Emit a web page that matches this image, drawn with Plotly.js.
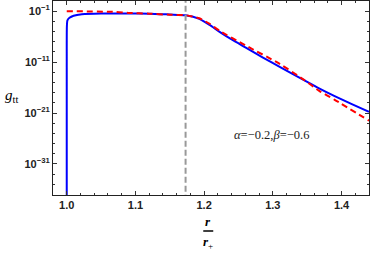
<!DOCTYPE html>
<html><head><meta charset="utf-8">
<script src="https://cdn.plot.ly/plotly-3.0.1.min.js"></script>
<style>html,body{margin:0;padding:0;background:#fff}</style>
</head><body>
<div id="chart" style="width:374px;height:254px"></div>
<script>
// Blue solid curve g_tt (exact)
const blueR = [1.0, 1.0, 1.0002, 1.001, 1.004, 1.01, 1.022, 1.05, 1.09, 1.12, 1.15, 1.173, 1.193, 1.208, 1.2225, 1.24, 1.26, 1.285, 1.31, 1.346, 1.368, 1.39, 1.415, 1.44];
const blueG = [1e-40, 1e-12, 1e-4, 1.6e-3, 5e-3, 1.3e-2, 2.5e-2, 3.5e-2, 3.5e-2, 3.2e-2, 2.2e-2, 1.6e-2, 3.2e-3, 2.0e-4, 8.7e-6, 2.8e-7, 7.9e-9, 8.9e-11, 1.2e-12, 2.5e-15, 6.3e-17, 2.1e-18, 5.6e-20, 1.8e-21];
// Red dashed curve (approximation)
const redR = [1.0, 1.07, 1.09, 1.12, 1.15, 1.173, 1.193, 1.208, 1.2225, 1.26, 1.31, 1.346, 1.368, 1.39, 1.44];
const redG = [1e-1, 7.1e-2, 4.5e-2, 3.2e-2, 2.0e-2, 1.6e-2, 4.0e-3, 3.2e-4, 1.4e-5, 2.0e-8, 4.5e-12, 2.8e-15, 2.0e-17, 4.0e-19, 3.2e-23];
const horizonR = 1.173;
const yTickVals = [1e-1, 1e-11, 1e-21, 1e-31];
const yTickText = ["10<sup>−1</sup>", "10<sup>−11</sup>", "10<sup>−21</sup>", "10<sup>−31</sup>"];
const xTickVals = [1.0, 1.1, 1.2, 1.3, 1.4];
const xTickText = ["1.0", "1.1", "1.2", "1.3", "1.4"];
const yMinorVals = [];
for (let e = -37; e <= 1; e += 2) yMinorVals.push(Math.pow(10, e));

const tickFont = {family: "Liberation Sans, Arial, sans-serif", size: 11, color: "#222", weight: 700};

const data = [
  {x: blueR, y: blueG, mode: "lines", line: {color: "#0000ff", width: 2, shape: "spline", smoothing: 0.6}, hoverinfo: "skip"},
  {x: redR, y: redG, mode: "lines", line: {color: "#ff0000", width: 2, dash: "6px,4px", shape: "spline", smoothing: 0.6}, hoverinfo: "skip"},
  {x: [horizonR, horizonR], y: [1e-40, 1e2], mode: "lines", line: {color: "#999999", width: 2, dash: "6px,3px"}, hoverinfo: "skip"}
];

const layout = {
  width: 374, height: 254,
  margin: {l: 53, r: 5, t: 1, b: 59},
  paper_bgcolor: "#fff", plot_bgcolor: "#fff",
  showlegend: false,
  xaxis: {
    range: [0.98, 1.44], tickvals: xTickVals, ticktext: xTickText,
    ticks: "inside", ticklen: 4, tickcolor: "#333", showgrid: false, zeroline: false,
    showline: true, linecolor: "#222", linewidth: 1, mirror: "allticks",
    tickfont: tickFont,
    minor: {dtick: 0.02, ticks: "inside", ticklen: 2, tickcolor: "#333", showgrid: false}
  },
  yaxis: {
    type: "log", range: [-37.1, 1.0], tickvals: yTickVals, ticktext: yTickText,
    ticks: "inside", ticklen: 4, tickcolor: "#333", showgrid: false, zeroline: false,
    showline: true, linecolor: "#222", linewidth: 1, mirror: "allticks",
    tickfont: tickFont,
    minor: {tickvals: yMinorVals, ticks: "inside", ticklen: 2, tickcolor: "#333", showgrid: false}
  },
  shapes: [
    {type: "line", xref: "x", yref: "paper", xsizemode: "pixel", ysizemode: "pixel",
     xanchor: 1.206, yanchor: 0, x0: -5, x1: 5, y0: -36, y1: -36,
     line: {color: "#000", width: 1.5}}
  ],
  annotations: [
    {xref: "paper", yref: "paper", x: -0.13, y: 0.5, yshift: 2, xanchor: "center", yanchor: "middle", showarrow: false,
     text: "<i>g</i><sub>tt</sub>", font: {family: "Liberation Serif, Times New Roman, serif", size: 15, color: "#000"}},
    {xref: "x", yref: "paper", x: 1.206, y: 0, yshift: -26, xanchor: "center", yanchor: "middle", showarrow: false,
     text: "<b><i>r</i></b>", font: {family: "Liberation Serif, serif", size: 13, color: "#000"}},
    {xref: "x", yref: "paper", x: 1.206, y: 0, yshift: -47, xanchor: "center", yanchor: "middle", showarrow: false,
     text: "<b><i>r</i></b><sub>+</sub>", font: {family: "Liberation Serif, serif", size: 13, color: "#000"}},
    {xref: "x", yref: "paper", x: 1.298, y: 0.31, xanchor: "center", yanchor: "middle", showarrow: false,
     text: "<i>α</i>=−0.2,<i>β</i>=−0.6", font: {family: "Liberation Serif, Times New Roman, serif", size: 12.5, color: "#222"}}
  ]
};

Plotly.newPlot("chart", data, layout, {displayModeBar: false, staticPlot: true});
</script>
</body></html>
